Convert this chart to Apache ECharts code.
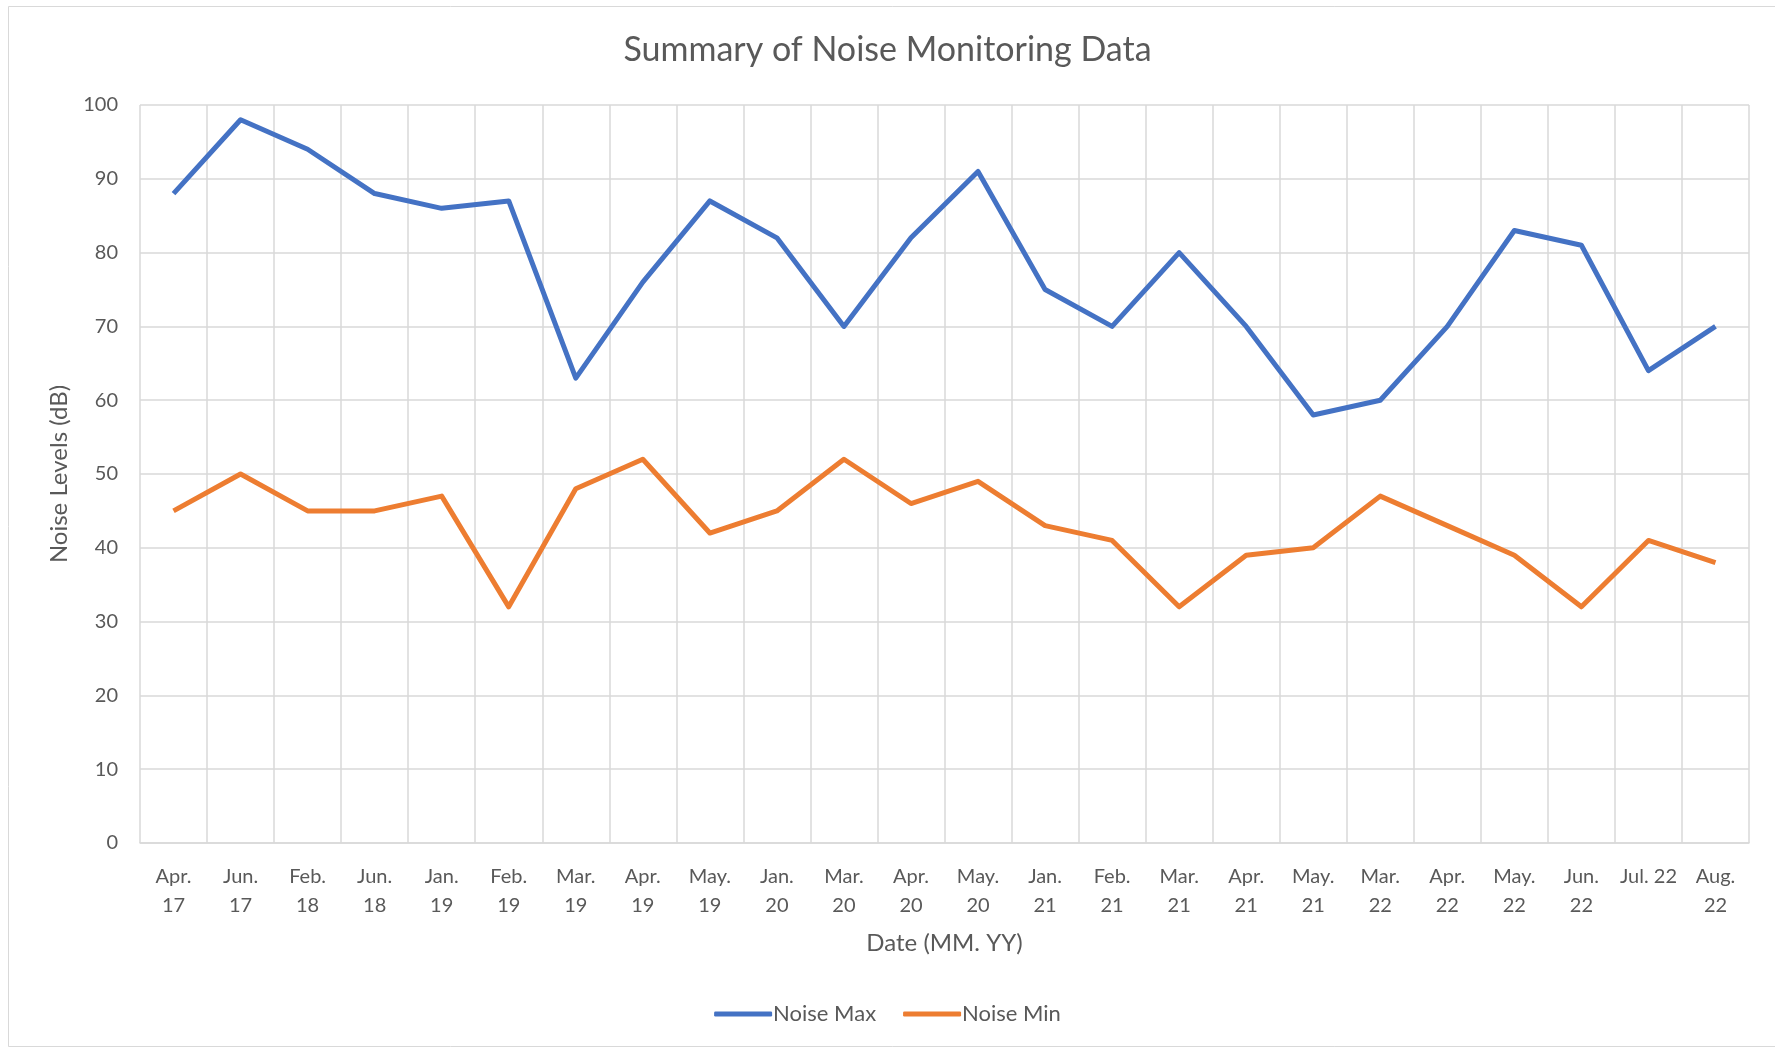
<!DOCTYPE html>
<html>
<head>
<meta charset="utf-8">
<script src="https://cdn.jsdelivr.net/npm/echarts@6/dist/echarts.min.js"></script>
<style>
  html, body { margin: 0; padding: 0; background: #fff; }
  #main { width: 1775px; height: 1050px; }
</style>
</head>
<body>
<div id="main"></div>
<script>
// categories (MM. YY)
var dates = ['Apr.\n17', 'Jun.\n17', 'Feb.\n18', 'Jun.\n18', 'Jan.\n19', 'Feb.\n19', 'Mar.\n19', 'Apr.\n19',
  'May.\n19', 'Jan.\n20', 'Mar.\n20', 'Apr.\n20', 'May.\n20', 'Jan.\n21', 'Feb.\n21', 'Mar.\n21',
  'Apr.\n21', 'May.\n21', 'Mar.\n22', 'Apr.\n22', 'May.\n22', 'Jun.\n22', 'Jul. 22', 'Aug.\n22'];
// series values
var noiseMax = [88, 98, 94, 88, 86, 87, 63, 76, 87, 82, 70, 82, 91, 75, 70, 80, 70, 58, 60, 70, 83, 81, 64, 70];
var noiseMin = [45, 50, 45, 45, 47, 32, 48, 52, 42, 45, 52, 46, 49, 43, 41, 32, 39, 40, 47, 43, 39, 32, 41, 38];

var font = 'Lato, "Open Sans", sans-serif';
var myChart = echarts.init(document.getElementById('main'));

var option = {
  backgroundColor: '#fff',
  textStyle: { fontFamily: font },
  title: {
    text: 'Summary of Noise Monitoring Data',
    left: 'center',
    top: 28,
    textStyle: { fontFamily: font, fontSize: 34, fontWeight: 'normal', color: '#595959' }
  },
  graphic: [{
    type: 'rect',
    shape: { x: 8.5, y: 6.5, width: 1770, height: 1040 },
    style: { fill: 'none', stroke: '#d9d9d9', lineWidth: 1 },
    silent: true
  }],
  legend: {
    bottom: 20,
    left: 'center',
    itemWidth: 58,
    itemHeight: 5,
    itemGap: 27,
    icon: 'roundRect',
    textStyle: { fontFamily: font, fontSize: 22, color: '#595959', padding: [0, 0, 0, -4] },
    data: ['Noise Max', 'Noise Min']
  },
  grid: { left: 140, right: 26, top: 105, bottom: 207 },
  xAxis: {
    type: 'category',
    data: dates,
    boundaryGap: true,
    name: 'Date (MM. YY)',
    nameLocation: 'middle',
    nameGap: 88,
    nameTextStyle: { fontFamily: font, fontSize: 24, color: '#595959' },
    axisLine: { lineStyle: { color: '#d9d9d9', width: 1.5 } },
    axisTick: { show: false },
    splitLine: { show: true, lineStyle: { color: '#d9d9d9', width: 1.5 } },
    axisLabel: { fontFamily: font, fontSize: 20, color: '#595959', margin: 19, lineHeight: 29, interval: 0 }
  },
  yAxis: {
    type: 'value',
    min: 0,
    max: 100,
    interval: 10,
    name: 'Noise Levels (dB)',
    nameLocation: 'middle',
    nameGap: 69,
    nameTextStyle: { fontFamily: font, fontSize: 24, color: '#595959' },
    axisLine: { show: false },
    axisTick: { show: false },
    splitLine: { lineStyle: { color: '#d9d9d9', width: 1.5 } },
    axisLabel: { fontFamily: font, fontSize: 20, color: '#595959', margin: 22 }
  },
  series: [
    {
      name: 'Noise Max',
      type: 'line',
      data: noiseMax,
      symbol: 'none',
      color: '#4472c4',
      lineStyle: { width: 5, color: '#4472c4', join: 'round' }
    },
    {
      name: 'Noise Min',
      type: 'line',
      data: noiseMin,
      symbol: 'none',
      color: '#ed7d31',
      lineStyle: { width: 5, color: '#ed7d31', join: 'round' }
    }
  ]
};
myChart.setOption(option);
</script>
</body>
</html>
